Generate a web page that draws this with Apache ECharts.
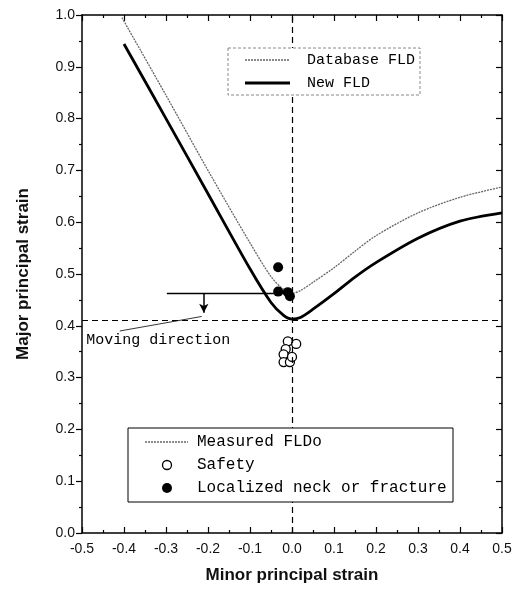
<!DOCTYPE html>
<html>
<head>
<meta charset="utf-8">
<script src="https://cdn.jsdelivr.net/npm/echarts@6/dist/echarts.min.js"></script>
<style>
  html, body { margin: 0; padding: 0; background: #fff; }
  #chart { width: 518px; height: 599px; }
</style>
</head>
<body>
<div id="chart"></div>
<script>
// curve values (minor strain -> major strain)
var dbX = [-0.405, -0.3, -0.2, -0.1, -0.05, -0.02, 0.0, 0.02, 0.05, 0.1, 0.15, 0.2, 0.3, 0.4, 0.5];
var dbY = [0.995, 0.845, 0.70, 0.56, 0.495, 0.47, 0.463, 0.468, 0.484, 0.512, 0.544, 0.574, 0.618, 0.648, 0.668];
var newX = [-0.4, -0.3, -0.2, -0.1, -0.05, -0.02, 0.0, 0.02, 0.05, 0.1, 0.15, 0.2, 0.3, 0.4, 0.5];
var newY = [0.944, 0.80, 0.655, 0.51, 0.445, 0.42, 0.413, 0.416, 0.432, 0.462, 0.494, 0.522, 0.569, 0.602, 0.618];

var safeX = [-0.01, 0.01, -0.015, -0.02, -0.02, -0.005, 0.0];
var safeY = [0.37, 0.365, 0.355, 0.345, 0.33, 0.33, 0.34];
var neckX = [-0.033, -0.033, -0.01, -0.005];
var neckY = [0.513, 0.466, 0.465, 0.457];

// guide lines
var limitY = 0.413;       // horizontal dashed line
var oldLevelY = 0.462;    // solid horizontal line
var oldLevelX = [-0.298, -0.01];
var arrowX = -0.21;
var arrowTipY = 0.425;
var leader = [[-0.41, 0.39], [-0.215, 0.418]];
var noteText = 'Moving direction';

var legendTop = ['Database FLD', 'New FLD'];
var legendBottom = ['Measured FLDo', 'Safety', 'Localized neck or fracture'];

var xTicks = { min: -0.5, max: 0.5, step: 0.1 };
var yTicks = { min: 0, max: 1, step: 0.1 };

function pairs(xs, ys) {
  var out = [];
  for (var i = 0; i < xs.length; i++) out.push([xs[i], ys[i]]);
  return out;
}

var sans = 'Liberation Sans, Arial, sans-serif';
var mono = 'Liberation Mono, DejaVu Sans Mono, monospace';
var dotted = { stroke: '#666', lineWidth: 1.3, lineDash: [2, 1] };

var chart = echarts.init(document.getElementById('chart'));

var axisCommon = {
  type: 'value',
  splitLine: { show: false },
  axisLine: { show: true, onZero: false, lineStyle: { color: '#000', width: 1.5 } },
  minorTick: { show: true, splitNumber: 2, length: 3, lineStyle: { color: '#000', width: 1.2 } },
  axisTick: { show: true, length: 6, lineStyle: { color: '#000', width: 1.2 } }
};

// hand-drawn legend boxes (the original has a line-only key and open circles)
function legendText(x, y, txt, size) {
  return { type: 'text', x: x, y: y, z: 11,
    style: { text: txt, fill: '#000', font: size + 'px ' + mono, verticalAlign: 'middle' } };
}
var graphics = [
  { type: 'rect', z: 10, shape: { x: 228, y: 48, width: 192, height: 47 },
    style: { fill: '#fff', stroke: '#888', lineWidth: 1, lineDash: [3, 2] } },
  { type: 'line', z: 11, shape: { x1: 245, y1: 60, x2: 290, y2: 60 }, style: dotted },
  legendText(307, 60, legendTop[0], 15),
  { type: 'line', z: 11, shape: { x1: 245, y1: 83, x2: 290, y2: 83 },
    style: { stroke: '#000', lineWidth: 2.8 } },
  legendText(307, 83, legendTop[1], 15),

  { type: 'rect', z: 10, shape: { x: 128, y: 428, width: 325, height: 74 },
    style: { fill: '#fff', stroke: '#000', lineWidth: 1 } },
  { type: 'line', z: 11, shape: { x1: 145, y1: 442, x2: 188, y2: 442 }, style: dotted },
  legendText(197, 442, legendBottom[0], 16),
  { type: 'circle', z: 11, shape: { cx: 167, cy: 465, r: 4.5 },
    style: { fill: '#fff', stroke: '#000', lineWidth: 1.3 } },
  legendText(197, 465, legendBottom[1], 16),
  { type: 'circle', z: 11, shape: { cx: 167, cy: 488, r: 5 },
    style: { fill: '#000' } },
  legendText(197, 488, legendBottom[2], 16)
];

var option = {
  animation: false,
  backgroundColor: '#fff',
  grid: { left: 82, right: 16, top: 15, bottom: 66 },
  graphic: graphics,
  xAxis: [
    Object.assign({}, axisCommon, {
      position: 'bottom',
      min: xTicks.min, max: xTicks.max, interval: xTicks.step,
      axisTick: Object.assign({}, axisCommon.axisTick, { inside: true }),
      axisLabel: {
        formatter: function (v) { return v.toFixed(1); },
        fontFamily: sans, fontSize: 14, color: '#111', margin: 9
      },
      name: 'Minor principal strain',
      nameLocation: 'middle', nameGap: 34,
      nameTextStyle: { fontFamily: sans, fontSize: 17, fontWeight: 'bold', color: '#111' }
    }),
    Object.assign({}, axisCommon, {
      position: 'top',
      min: xTicks.min, max: xTicks.max, interval: xTicks.step,
      axisTick: Object.assign({}, axisCommon.axisTick, { inside: true }),
      axisLabel: { show: false }
    })
  ],
  yAxis: [
    Object.assign({}, axisCommon, {
      position: 'left',
      min: yTicks.min, max: yTicks.max, interval: yTicks.step,
      axisLabel: {
        formatter: function (v) { return v.toFixed(1); },
        fontFamily: sans, fontSize: 14, color: '#111', margin: 7
      },
      name: 'Major principal strain',
      nameLocation: 'middle', nameGap: 50,
      nameTextStyle: { fontFamily: sans, fontSize: 17, fontWeight: 'bold', color: '#111' }
    }),
    Object.assign({}, axisCommon, {
      position: 'right',
      min: yTicks.min, max: yTicks.max, interval: yTicks.step,
      axisTick: Object.assign({}, axisCommon.axisTick, { inside: true }),
      axisLabel: { show: false }
    })
  ],
  series: [
    {
      name: 'Database FLD',
      type: 'line',
      data: pairs(dbX, dbY),
      smooth: 0.3,
      symbol: 'none',
      lineStyle: { color: '#666', width: 1.3, type: [2, 1] },
      z: 3
    },
    {
      name: 'New FLD',
      type: 'line',
      data: pairs(newX, newY),
      smooth: 0.3,
      symbol: 'none',
      lineStyle: { color: '#000', width: 2.8 },
      z: 3,
      markLine: {
        silent: true,
        symbol: 'none',
        label: { show: false },
        lineStyle: { color: '#000', width: 1.2, type: [6, 4] },
        data: [
          { xAxis: 0 },
          { yAxis: limitY },
          [
            { coord: [oldLevelX[0], oldLevelY], lineStyle: { type: 'solid', width: 1.3 } },
            { coord: [oldLevelX[1], oldLevelY] }
          ],
          [
            { coord: [arrowX, oldLevelY], symbol: 'none', lineStyle: { type: 'solid', width: 1.5 } },
            { coord: [arrowX, arrowTipY], symbol: 'arrow', symbolSize: [7, 9] }
          ],
          [
            { coord: leader[0], lineStyle: { type: 'solid', width: 0.8 } },
            { coord: leader[1] }
          ]
        ]
      },
      markPoint: {
        silent: true,
        symbol: 'circle', symbolSize: 0,
        data: [{ coord: [-0.49, 0.372] }],
        label: {
          show: true, position: 'right', distance: 0,
          formatter: noteText,
          fontFamily: mono, fontSize: 15, color: '#000'
        }
      }
    },
    {
      name: 'Safety',
      type: 'scatter',
      data: pairs(safeX, safeY),
      symbolSize: 9,
      itemStyle: { color: '#fff', borderColor: '#000', borderWidth: 1.3, opacity: 1 },
      z: 4
    },
    {
      name: 'Localized neck or fracture',
      type: 'scatter',
      data: pairs(neckX, neckY),
      symbolSize: 10,
      itemStyle: { color: '#000', opacity: 1 },
      z: 4
    }
  ]
};

chart.setOption(option);
</script>
</body>
</html>
